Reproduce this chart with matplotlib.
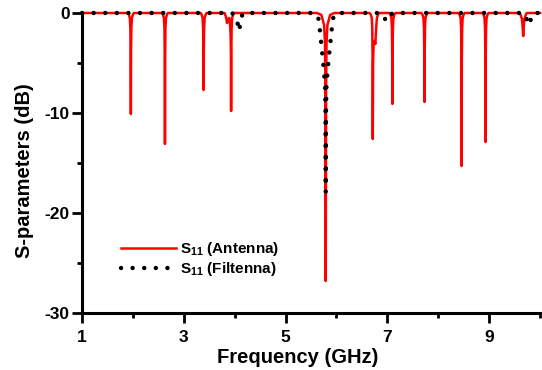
#!/usr/bin/env python3

import matplotlib
matplotlib.use('Agg')
import matplotlib.pyplot as plt

# S11 of the plain antenna (GHz, dB)
antenna_freq = [
    1.00,
    1.90, 1.92, 1.94, 1.95, 1.956, 1.96, 1.964, 1.97, 1.98, 2.00, 2.02,
    2.57, 2.59, 2.61, 2.62, 2.626, 2.63, 2.634, 2.64, 2.65, 2.67, 2.69,
    3.33, 3.35, 3.37, 3.38, 3.386, 3.39, 3.394, 3.40, 3.41, 3.43, 3.45,
    3.80, 3.83, 3.85, 3.87, 3.895, 3.91, 3.92, 3.926, 3.93, 3.934, 3.94, 3.95, 3.97, 3.99,
    5.62, 5.705, 5.757, 5.775, 5.784, 5.79, 5.796, 5.805, 5.823, 5.875, 5.96,
    6.65, 6.674, 6.694, 6.704, 6.71, 6.714, 6.72, 6.73, 6.745, 6.765, 6.78, 6.795, 6.83,
    7.04, 7.06, 7.08, 7.09, 7.096, 7.10, 7.104, 7.11, 7.12, 7.14, 7.16,
    7.67, 7.69, 7.71, 7.72, 7.726, 7.73, 7.734, 7.74, 7.75, 7.77, 7.79,
    8.40, 8.42, 8.44, 8.45, 8.456, 8.46, 8.464, 8.47, 8.48, 8.50, 8.52,
    8.87, 8.89, 8.91, 8.92, 8.926, 8.93, 8.934, 8.94, 8.95, 8.97, 8.99,
    9.60, 9.62, 9.645, 9.658, 9.67, 9.682, 9.695, 9.72, 9.74,
    10.0,
]
antenna_db = [
    0.0,
    0.0, -0.15, -0.5, -1.5, -4.0, -10.1, -4.0, -1.5, -0.5, -0.15, 0.0,
    0.0, -0.15, -0.5, -1.5, -4.5, -13.1, -4.5, -1.5, -0.5, -0.15, 0.0,
    0.0, -0.15, -0.5, -1.5, -3.5, -7.7, -3.5, -1.5, -0.5, -0.15, 0.0,
    0.0, -0.4, -1.0, -0.6, -0.5, -1.2, -2.2, -4.0, -9.8, -4.0, -1.5, -0.5, -0.15, 0.0,
    0.0, -0.2, -1.2, -3.0, -8.0, -26.8, -8.0, -3.0, -1.2, -0.2, 0.0,
    0.0, -0.15, -0.5, -1.5, -4.5, -12.6, -5.0, -3.2, -2.8, -3.1, -1.6, -0.5, 0.0,
    0.0, -0.15, -0.5, -1.5, -4.0, -9.1, -4.0, -1.5, -0.5, -0.15, 0.0,
    0.0, -0.15, -0.5, -1.5, -4.0, -8.9, -4.0, -1.5, -0.5, -0.15, 0.0,
    0.0, -0.15, -0.5, -1.5, -5.0, -15.3, -5.0, -1.5, -0.5, -0.15, 0.0,
    0.0, -0.15, -0.5, -1.5, -4.5, -12.9, -4.5, -1.5, -0.5, -0.15, 0.0,
    0.0, -0.2, -0.6, -1.3, -2.3, -1.3, -0.6, -0.2, 0.0,
    0.0,
]

# S11 of the filtenna (GHz, dB)
filtenna_freq = [
    1.00, 3.95, 4.00, 4.05, 4.08, 4.11, 4.14, 4.18,
    5.55, 5.61, 5.64, 5.66, 5.68, 5.70, 5.72, 5.74, 5.755, 5.775, 5.785, 5.79,
    5.795, 5.805, 5.825, 5.84, 5.86, 5.88, 5.90, 5.92, 5.94, 5.97, 6.03,
    6.88, 6.93, 7.01, 7.06, 7.10,
    9.68, 9.73, 9.78, 9.81, 9.85, 9.90, 10.0,
]
filtenna_db = [
    0.0, 0.0, -0.3, -0.8, -1.8, -1.2, -0.3, 0.0,
    0.0, -0.1, -0.4, -1.0, -2.0, -3.0, -4.0, -5.0, -6.0, -7.0, -10.0, -17.9,
    -10.0, -7.0, -6.0, -5.0, -4.0, -3.0, -2.0, -1.0, -0.4, -0.1, 0.0,
    0.0, -0.5, -0.8, -0.3, 0.0,
    0.0, -0.5, -1.2, -0.8, -0.1, 0.0, 0.0,
]

x_major = [1, 3, 5, 7, 9]
x_minor = [2, 4, 6, 8, 10]
y_major = [0, -10, -20, -30]
y_minor = [-5, -15, -25]

plt.rcParams['font.family'] = ['Liberation Sans', 'DejaVu Sans']
plt.rcParams['font.weight'] = 'bold'
plt.rcParams['axes.unicode_minus'] = False
plt.rcParams['mathtext.fontset'] = 'custom'
plt.rcParams['mathtext.rm'] = 'Liberation Sans:bold'
plt.rcParams['mathtext.it'] = 'Liberation Sans:bold'
plt.rcParams['mathtext.bf'] = 'Liberation Sans:bold'

fig = plt.figure(figsize=(5.42, 3.70), dpi=100)
ax = fig.add_axes([0.1513, 0.1541, 0.8450, 0.8108])

ax.plot(antenna_freq, antenna_db, color='#ff0000', lw=1.8,
        label='S$_{11}$ (Antenna)', clip_on=False, zorder=2)
ax.plot(filtenna_freq, filtenna_db, color='black', lw=3.2,
        linestyle=(0, (0.01, 2.6)), dash_capstyle='round',
        label='S$_{11}$ (Filtenna)', clip_on=False, zorder=3)

ax.set_xlim(1, 10)
ax.set_ylim(-30, 0)
ax.set_xticks(x_major)
ax.set_xticks(x_minor, minor=True)
ax.set_yticks(y_major)
ax.set_yticks(y_minor, minor=True)

for side in ['top', 'right']:
    ax.spines[side].set_visible(False)
for side in ['left', 'bottom']:
    ax.spines[side].set_linewidth(2.2)

ax.tick_params(axis='both', which='major', length=7, width=2, labelsize=12.5)
ax.tick_params(axis='both', which='minor', length=3.5, width=2)
ax.tick_params(axis='x', which='major', pad=5)
ax.tick_params(axis='y', which='major', pad=2)

ax.set_xlabel('Frequency (GHz)', fontsize=14.5, fontweight='bold')
ax.set_ylabel('S-parameters (dB)', fontsize=14.5, fontweight='bold')
ax.xaxis.set_label_coords(0.47, -0.147)
ax.xaxis.label.set_verticalalignment('center')
ax.yaxis.set_label_coords(-0.105, 0.473)

ax.legend(loc='center left', bbox_to_anchor=(0.072, 0.18), frameon=False,
          fontsize=11, handlelength=3.6, handletextpad=0.25, labelspacing=0.12,
          borderaxespad=0)

plt.savefig('out.png', dpi=100)
